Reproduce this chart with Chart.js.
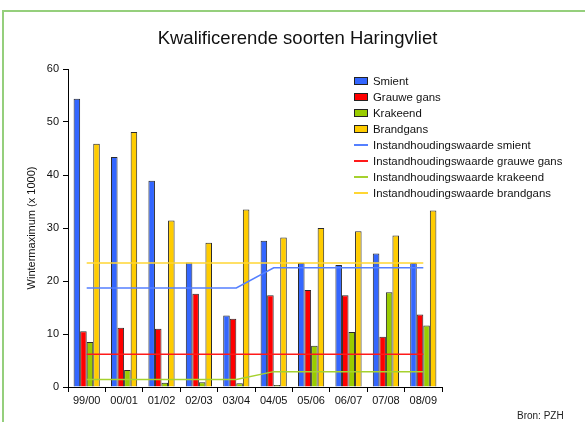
<!DOCTYPE html>
<html>
<head>
<meta charset="utf-8">
<script src="https://cdn.jsdelivr.net/npm/chart.js@4/dist/chart.umd.min.js"></script>
<style>
  body { margin: 0; background: #fff; font-family: "Liberation Sans", Arial, sans-serif; }
  #wrap { position: relative; width: 585px; height: 422px; overflow: hidden; }
  #frame { position: absolute; left: 2px; top: 10px; width: 700px; height: 500px;
           border-top: 2px solid #95cf7c; border-left: 2px solid #95cf7c; }
  #title { position: absolute; left: 5px; top: 27px; width: 585px; text-align: center;
           font-size: 18.5px; line-height: 22px; color: #111; }
  #legend { position: absolute; left: 354px; top: 73px; font-size: 11.4px; color: #111; }
  .row { height: 16px; display: flex; align-items: center; }
  .sw { width: 14px; margin-right: 5px; box-sizing: border-box; }
  #source { position: absolute; left: 517px; top: 410px; font-size: 10px; color: #222; }
  canvas { position: absolute; left: 0; top: 0; }
</style>
</head>
<body>
<div id="wrap">
  <div id="frame"></div>
  <canvas id="chart" width="585" height="422"></canvas>
  <div id="title">Kwalificerende soorten Haringvliet</div>
  <div id="legend"></div>
  <div id="source">Bron: PZH</div>
</div>
<script>
// seasons on the x axis
const seasons = ["99/00", "00/01", "01/02", "02/03", "03/04", "04/05", "05/06", "06/07", "07/08", "08/09"]

// winter maximum (x 1000)
const smient = [54.4, 43.4, 38.9, 23.5, 13.5, 27.6, 23.4, 23.0, 25.2, 23.4]
const grauweGans = [10.5, 11.2, 11.0, 17.6, 12.9, 17.3, 18.3, 17.3, 9.5, 13.7]
const krakeend = [8.5, 3.2, 0.8, 0.9, 0.7, 0.4, 7.8, 10.4, 17.9, 11.6]
const brandgans = [45.9, 48.1, 31.4, 27.2, 33.5, 28.2, 30.0, 29.4, 28.6, 33.3]

// conservation targets (instandhoudingswaarde)
const normSmient = [18.7, 18.7, 18.7, 18.7, 18.7, 22.5, 22.5, 22.5, 22.5, 22.5]
const normGrauweGans = [6.2, 6.2, 6.2, 6.2, 6.2, 6.2, 6.2, 6.2, 6.2, 6.2]
const normKrakeend = [1.4, 1.4, 1.4, 1.4, 1.4, 2.9, 2.9, 2.9, 2.9, 2.9]
const normBrandgans = [23.4, 23.4, 23.4, 23.4, 23.4, 23.4, 23.4, 23.4, 23.4, 23.4]

const yTicks = [0, 10, 20, 30, 40, 50, 60]

function bar(label, data, color) {
  return {
    type: "bar", label, data,
    backgroundColor: color, borderColor: "#2a2a2a", borderWidth: 1,
    categoryPercentage: 0.7, barPercentage: 1.0, order: 2,
  }
}

function line(label, data, color) {
  return {
    type: "line", label, data,
    borderColor: color, borderWidth: 1.5, pointRadius: 0, tension: 0,
    fill: false, order: 1,
  }
}

const datasets = [
  bar("Smient", smient, "#3366ff"),
  bar("Grauwe gans", grauweGans, "#ff0000"),
  bar("Krakeend", krakeend, "#99cc00"),
  bar("Brandgans", brandgans, "#ffcc00"),
  line("Instandhoudingswaarde smient", normSmient, "#5580ff"),
  line("Instandhoudingswaarde grauwe gans", normGrauweGans, "#ff1a1a"),
  line("Instandhoudingswaarde krakeend", normKrakeend, "#a6d12e"),
  line("Instandhoudingswaarde brandgans", normBrandgans, "#ffd633"),
]

const font = { family: "'Liberation Sans', Arial, sans-serif", size: 11 }

new Chart(document.getElementById("chart"), {
  data: { labels: seasons, datasets },
  options: {
    responsive: false,
    animation: false,
    layout: { padding: { left: 0, right: 143, top: 69, bottom: 0 } },
    plugins: {
      legend: { display: false },
      tooltip: { enabled: false },
      title: { display: false },
    },
    scales: {
      x: {
        offset: true,
        grid: { offset: true, drawOnChartArea: false, drawTicks: true, tickLength: 5, color: "#000" },
        border: { display: true, color: "#000", width: 1 },
        ticks: { color: "#111", font, padding: 2, maxRotation: 0 },
        afterFit(scale) { scale.height = 35 },
      },
      y: {
        min: 0, max: 60,
        afterBuildTicks(scale) { scale.ticks = yTicks.map(v => ({ value: v })) },
        grid: { drawOnChartArea: false, drawTicks: true, tickLength: 5, color: "#000" },
        border: { display: true, color: "#000", width: 1 },
        ticks: { color: "#111", font, padding: 4 },
        title: {
          display: true, text: "Wintermaximum (x 1000)", color: "#111", font,
          padding: { top: 25, bottom: 0 },
        },
        afterFit(scale) { scale.width = 68 },
      },
    },
  },
})

// legend
const legendEl = document.getElementById("legend")
datasets.forEach(ds => {
  const row = document.createElement("div")
  row.className = "row"
  const sw = document.createElement("div")
  sw.className = "sw"
  if (ds.type === "bar") {
    sw.style.height = "8px"
    sw.style.background = ds.backgroundColor
    sw.style.border = "1px solid #222"
  } else {
    sw.style.height = "1.5px"
    sw.style.background = ds.borderColor
  }
  const txt = document.createElement("span")
  txt.textContent = ds.label
  row.appendChild(sw)
  row.appendChild(txt)
  legendEl.appendChild(row)
})
</script>
</body>
</html>
